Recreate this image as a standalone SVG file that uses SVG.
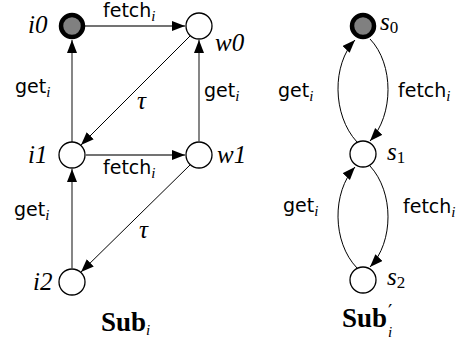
<svg xmlns="http://www.w3.org/2000/svg" width="470" height="343" viewBox="0 0 470 343">
<style>
.st{fill:#fff;stroke:#000;stroke-width:1.3}
.init{fill:#808080;stroke:#000;stroke-width:4.5}
.e{fill:none;stroke:#444;stroke-width:1.3}
.d{fill:none;stroke:#000;stroke-width:1}
.sans{font-family:"DejaVu Sans","Liberation Sans",sans-serif;font-size:19px;fill:#000}
.it{font-family:"Liberation Serif",serif;font-style:italic;font-size:25px;fill:#000}
.sub{font-family:"Liberation Serif",serif;font-style:italic;font-size:15px}
.num{font-family:"Liberation Serif",serif;font-style:normal;font-size:17px}
.bold{font-family:"Liberation Serif",serif;font-weight:bold;font-size:27px;fill:#000}
</style>
<defs>
<marker id="ah" markerUnits="userSpaceOnUse" markerWidth="14" markerHeight="12" refX="13" refY="5" orient="auto">
<path d="M0,0 L13,5 L0,10 Z" fill="#000"/>
</marker>
</defs>
<g id="connectors">
<line class="e" x1="85" y1="26" x2="185" y2="26" marker-end="url(#ah)"/>
<line class="e" x1="72" y1="142" x2="72" y2="40" marker-end="url(#ah)"/>
<line class="d" x1="190" y1="36" x2="81" y2="145" marker-end="url(#ah)"/>
<line class="e" x1="199" y1="141" x2="199" y2="40" marker-end="url(#ah)"/>
<line class="e" x1="86" y1="155" x2="185" y2="155" marker-end="url(#ah)"/>
<line class="d" x1="190" y1="165" x2="81" y2="272" marker-end="url(#ah)"/>
<line class="e" x1="72" y1="268" x2="72" y2="169" marker-end="url(#ah)"/>
<path class="d" d="M357,142 C332,115 332,64 355,40" marker-end="url(#ah)"/>
<path class="d" d="M370,39 C394,64 394,115 370,141" marker-end="url(#ah)"/>
<path class="d" d="M357,268 C332,242 332,192 355,167" marker-end="url(#ah)"/>
<path class="d" d="M370,166 C394,192 394,242 370,267" marker-end="url(#ah)"/>
</g>
<g id="labels">
<text class="sans" x="103" y="17">fetch<tspan class="sub" dy="4">i</tspan></text>
<text class="sans" x="15" y="93">get<tspan class="sub" dy="4">i</tspan></text>
<text class="sans" x="204" y="97">get<tspan class="sub" dy="4">i</tspan></text>
<text class="it" x="137" y="109">τ</text>
<text class="sans" x="103" y="174">fetch<tspan class="sub" dy="4">i</tspan></text>
<text class="sans" x="14" y="216">get<tspan class="sub" dy="4">i</tspan></text>
<text class="it" x="139" y="238">τ</text>
<text class="bold" x="101" y="331">Sub<tspan class="sub" font-weight="normal" dy="4">i</tspan></text>
<text class="sans" x="278" y="97">get<tspan class="sub" dy="4">i</tspan></text>
<text class="sans" x="398" y="97">fetch<tspan class="sub" dy="4">i</tspan></text>
<text class="sans" x="283" y="212">get<tspan class="sub" dy="4">i</tspan></text>
<text class="sans" x="403" y="213">fetch<tspan class="sub" dy="4">i</tspan></text>
<text class="bold" x="342" y="327">Sub</text>
<text class="sans" x="388" y="318" font-size="13">′</text>
<text class="sub" x="388" y="337" font-size="13">i</text>
</g>
<g id="i0"><circle class="init" cx="72" cy="26" r="11"/><text class="it" x="28" y="33">i0</text></g>
<g id="w0"><circle class="st" cx="199" cy="26" r="13"/><text class="it" x="215" y="51">w0</text></g>
<g id="i1"><circle class="st" cx="72" cy="155" r="13"/><text class="it" x="28" y="163">i1</text></g>
<g id="w1"><circle class="st" cx="199" cy="155" r="13"/><text class="it" x="217" y="163">w1</text></g>
<g id="i2"><circle class="st" cx="72" cy="282" r="13"/><text class="it" x="33" y="290">i2</text></g>
<g id="s0"><circle class="init" cx="363" cy="26" r="11"/><text class="it" x="380" y="30">s<tspan class="num" dy="3">0</tspan></text></g>
<g id="s1"><circle class="st" cx="363" cy="154" r="13"/><text class="it" x="387" y="160">s<tspan class="num" dy="3">1</tspan></text></g>
<g id="s2"><circle class="st" cx="363" cy="280" r="13"/><text class="it" x="387" y="285">s<tspan class="num" dy="3">2</tspan></text></g>
</svg>
